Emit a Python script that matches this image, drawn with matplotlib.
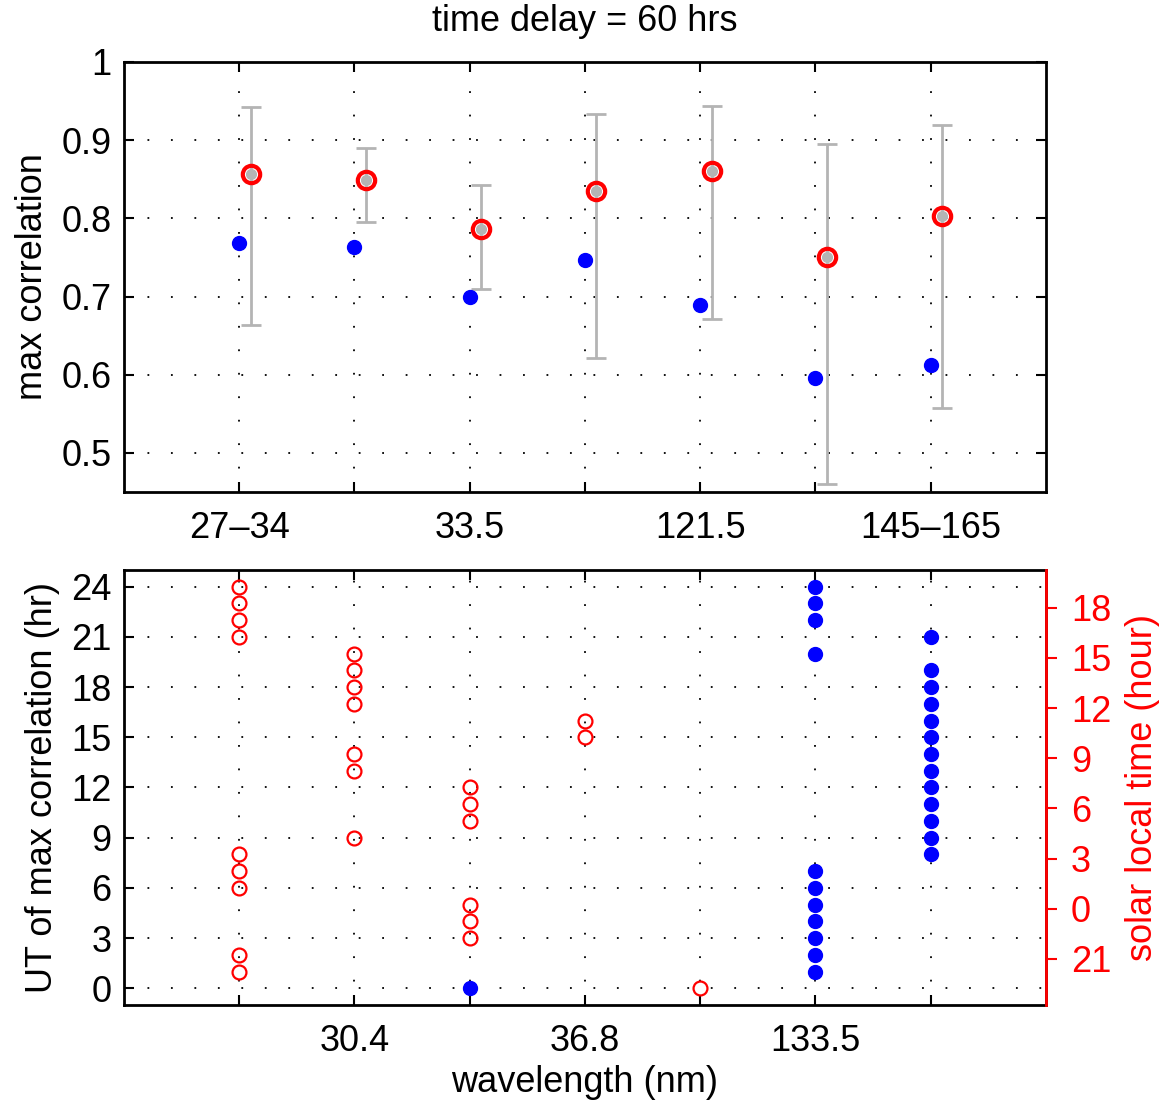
"""Max correlation and UT of max correlation vs wavelength channel."""

import numpy as np
from matplotlib import pyplot as plt

plt.rcParams["font.family"] = ["Liberation Sans", "DejaVu Sans"]
plt.rcParams["font.size"] = 26

# channel index along x
channels = [1, 2, 3, 4, 5, 6, 7]
top_labels = ["27\u201334", "", "33.5", "", "121.5", "", "145\u2013165"]
bottom_labels = ["", "30.4", "", "36.8", "", "133.5", ""]

# top panel: max correlation
blue_corr = [0.769, 0.763, 0.699, 0.747, 0.689, 0.596, 0.612]
red_corr = [0.857, 0.849, 0.786, 0.835, 0.860, 0.750, 0.803]
red_lo = [0.664, 0.795, 0.710, 0.621, 0.671, 0.460, 0.557]
red_hi = [0.942, 0.890, 0.843, 0.934, 0.944, 0.895, 0.920]

# bottom panel: UT (hr) of max correlation
red_ut_x = [1] * 9 + [2] * 7 + [3] * 6 + [4] * 2 + [5]
red_ut = [24, 23, 22, 21, 8, 7, 6, 2, 1,
          20, 19, 18, 17, 14, 13, 9,
          12, 11, 10, 5, 4, 3,
          16, 15,
          0]
blue_ut_x = [3] + [6] * 11 + [7] * 13
blue_ut = [0,
           24, 23, 22, 20, 7, 6, 5, 4, 3, 2, 1,
           21, 19, 18, 17, 16, 15, 14, 13, 12, 11, 10, 9, 8]

SLT_OFFSET = 4.75  # UT - SLT (hours)
slt_ticks = [-3, 0, 3, 6, 9, 12, 15, 18]

GRID = dict(color="black", linestyle=(0, (1, 12)), linewidth=1.3)


def matlab_axes(ax):
    for s in ax.spines.values():
        s.set_linewidth(2)
    ax.tick_params(direction="in", length=7, width=1.5, top=True, right=True)
    ax.tick_params(axis="x", pad=14)
    ax.tick_params(axis="y", pad=9)
    ax.grid(True, **GRID)


fig = plt.figure(figsize=(11.74, 11.05), dpi=100)
ax1 = fig.add_axes([0.1056, 0.5548, 0.7853, 0.3891])
ax2 = fig.add_axes([0.1056, 0.0905, 0.7853, 0.3937])

# --- top panel
x = np.array(channels)
yerr = [np.array(red_corr) - np.array(red_lo), np.array(red_hi) - np.array(red_corr)]
ax1.errorbar(x + 0.1, red_corr, yerr=yerr, fmt="o", color="#b4b4b4",
             ms=7, elinewidth=2, capsize=7, capthick=2, zorder=3)
ax1.plot(x + 0.1, red_corr, "o", mfc="none", mec="red", mew=3, ms=12.5,
         zorder=4)
ax1.plot(x, blue_corr, "o", color="blue", ms=10, zorder=4)
ax1.set_xlim(0, 8)
ax1.set_ylim(0.45, 1)
ax1.set_yticks([0.5, 0.6, 0.7, 0.8, 0.9, 1])
ax1.set_yticklabels(["0.5", "0.6", "0.7", "0.8", "0.9", "1"])
ax1.set_xticks(channels)
ax1.set_xticklabels(top_labels)
ax1.set_ylabel("max correlation", labelpad=8)
ax1.set_title("time delay = 60 hrs", fontsize=26, pad=22)
matlab_axes(ax1)

# --- bottom panel
ax2.plot(red_ut_x, red_ut, "o", mfc="none", mec="red", mew=1.6, ms=10,
         zorder=4)
ax2.plot(blue_ut_x, blue_ut, "o", color="blue", ms=10, zorder=4)
ax2.set_xlim(0, 8)
ax2.set_ylim(-1, 25)
ax2.set_yticks(range(0, 25, 3))
ax2.set_xticks(channels)
ax2.set_xticklabels(bottom_labels)
ax2.set_xlabel("wavelength (nm)", labelpad=4)
ax2.set_ylabel("UT of max correlation (hr)", labelpad=8)
matlab_axes(ax2)

ax3 = ax2.twinx()
ax3.set_ylim(-1 - SLT_OFFSET, 25 - SLT_OFFSET)
ax3.set_yticks(slt_ticks)
ax3.set_yticklabels([str(t % 24) for t in slt_ticks])
ax3.tick_params(axis="y", direction="out", length=8, width=1.5, colors="red",
                pad=10)
for name, s in ax3.spines.items():
    s.set_visible(name == "right")
ax3.spines["right"].set_color("red")
ax3.spines["right"].set_linewidth(2)
ax3.set_ylabel("solar local time (hour)", color="red", labelpad=10)

fig.savefig("out.png", dpi=100)
